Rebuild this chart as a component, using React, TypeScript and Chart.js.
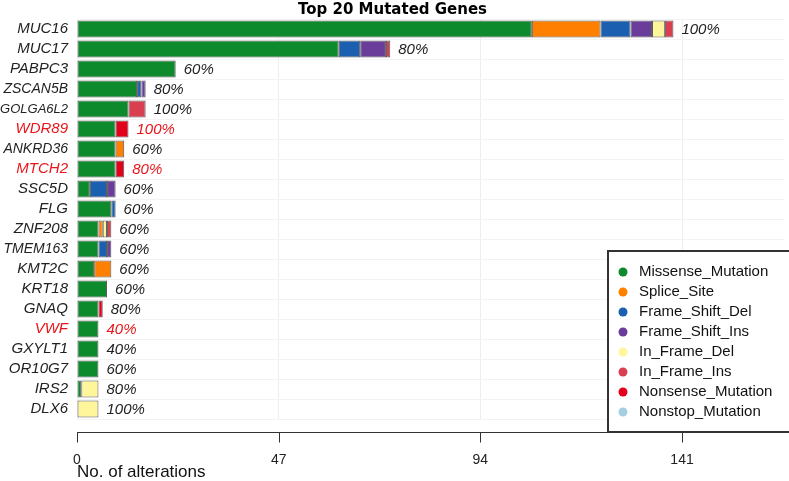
import { useEffect, useRef } from 'react'
import Chart from 'chart.js/auto'

// genes, top to bottom
const genes = [
  'MUC16', 'MUC17', 'PABPC3', 'ZSCAN5B', 'GOLGA6L2', 'WDR89', 'ANKRD36', 'MTCH2', 'SSC5D', 'FLG',
  'ZNF208', 'TMEM163', 'KMT2C', 'KRT18', 'GNAQ', 'VWF', 'GXYLT1', 'OR10G7', 'IRS2', 'DLX6',
]

// alterations per mutation type
const missense = [106, 61, 23, 14, 12, 9, 9, 9, 3, 8, 5, 5, 4, 7, 5, 5, 5, 5, 1, 0]
const spliceSite = [16, 0, 0, 0, 0, 0, 2, 0, 0, 0, 1, 0, 4, 0, 0, 0, 0, 0, 0, 0]
const frameShiftDel = [7, 5, 0, 1, 0, 0, 0, 0, 4, 1, 0, 2, 0, 0, 0, 0, 0, 0, 0, 0]
const frameShiftIns = [5, 6, 0, 1, 0, 0, 0, 0, 2, 0, 0, 1, 0, 0, 0, 0, 0, 0, 0, 0]
const inFrameDel = [3, 0, 0, 0, 0, 0, 0, 0, 0, 0, 1, 0, 0, 0, 0, 0, 0, 0, 4, 5]
const inFrameIns = [2, 1, 0, 0, 4, 0, 0, 0, 0, 0, 1, 0, 0, 0, 0, 0, 0, 0, 0, 0]
const nonsense = [0, 0, 0, 0, 0, 3, 0, 2, 0, 0, 0, 0, 0, 0, 1, 0, 0, 0, 0, 0]
const nonstop = [0, 0, 0, 0, 0, 0, 0, 0, 0, 0, 0, 0, 0, 0, 0, 0, 0, 0, 0, 0]

// percent of samples mutated
const pctMutated = [100, 80, 60, 80, 100, 100, 60, 80, 60, 60, 60, 60, 60, 60, 80, 40, 40, 60, 80, 100]
const highlighted = ['WDR89', 'MTCH2', 'VWF']

const xTicks = [0, 47, 94, 141]

const mutationTypes = [
  'Missense_Mutation', 'Splice_Site', 'Frame_Shift_Del', 'Frame_Shift_Ins',
  'In_Frame_Del', 'In_Frame_Ins', 'Nonsense_Mutation', 'Nonstop_Mutation',
]
const typeColors = ['#0c8a2c', '#ff7f00', '#1a5fb0', '#6a3d9a', '#fff59a', '#d8404f', '#e2001a', '#a6cee3']

const RED = '#e8161b'
const TEXT = '#222'

export default function App() {
  const chartRef = useRef<HTMLCanvasElement>(null)

  useEffect(() => {
    if (!chartRef.current) return
    const series = [missense, spliceSite, frameShiftDel, frameShiftIns, inFrameDel, inFrameIns, nonsense, nonstop]
    const totals = genes.map((_, i) => series.reduce((s, arr) => s + arr[i], 0))

    const overlay = {
      id: 'overlay',
      afterDatasetsDraw(chart: any) {
        const { ctx, scales, chartArea } = chart
        const x = scales.x
        const y = scales.y
        ctx.save()
        // percent labels
        ctx.font = 'italic 15px "Liberation Sans", Arial, sans-serif'
        ctx.textAlign = 'left'
        ctx.textBaseline = 'middle'
        genes.forEach((g, i) => {
          ctx.fillStyle = highlighted.includes(g) ? RED : TEXT
          ctx.fillText(pctMutated[i] + '%', x.getPixelForValue(totals[i]) + 8, y.getPixelForValue(i) + 1)
        })
        // x axis line + ticks
        const axisY = chartArea.bottom + 13.5
        ctx.strokeStyle = '#333'
        ctx.lineWidth = 1
        ctx.beginPath()
        ctx.moveTo(x.getPixelForValue(0), axisY)
        ctx.lineTo(chartArea.right, axisY)
        xTicks.forEach((v) => {
          const px = Math.round(x.getPixelForValue(v)) + 0.5
          ctx.moveTo(px, axisY)
          ctx.lineTo(px, axisY + 10)
        })
        ctx.stroke()
        ctx.restore()
      },
      afterDraw(chart: any) {
        const { ctx } = chart
        const left = 608
        const top = 251
        const w = 182
        const h = 181
        ctx.save()
        ctx.fillStyle = '#fff'
        ctx.fillRect(left, top, w, h)
        ctx.strokeStyle = '#333'
        ctx.lineWidth = 2
        ctx.strokeRect(left, top, w, h)
        ctx.font = '15px "Liberation Sans", Arial, sans-serif'
        ctx.textBaseline = 'middle'
        ctx.textAlign = 'left'
        chart.data.datasets.forEach((ds: any, k: number) => {
          const cy = top + 21 + k * 20
          ctx.fillStyle = ds.backgroundColor
          ctx.beginPath()
          ctx.arc(left + 15, cy, 4.5, 0, Math.PI * 2)
          ctx.fill()
          ctx.fillStyle = '#111'
          ctx.fillText(ds.label, left + 31, cy)
        })
        ctx.restore()
      },
    }

    const chart = new Chart(chartRef.current, {
      type: 'bar',
      data: {
        labels: genes,
        datasets: mutationTypes.map((t, k) => ({
          label: t,
          data: series[k].map((v) => (v === 0 ? null : v)),
          backgroundColor: typeColors[k],
          borderColor: '#5a5a5a',
          borderWidth: 1,
          borderSkipped: false,
          barPercentage: 0.85,
          categoryPercentage: 1,
        })),
      },
      options: {
        indexAxis: 'y',
        animation: false,
        responsive: true,
        maintainAspectRatio: false,
        layout: { padding: { left: 0, right: 4, top: 0, bottom: 0 } },
        plugins: {
          legend: { display: false },
          tooltip: { enabled: false },
          title: {
            display: true,
            text: 'Top 20 Mutated Genes',
            color: '#000',
            font: { family: 'DejaVu Sans', size: 15, weight: 'bold', lineHeight: 1 },
            padding: { top: 3, bottom: 1 },
          },
        },
        scales: {
          x: {
            stacked: true,
            min: 0,
            max: 165,
            afterBuildTicks: (s: any) => {
              s.ticks = xTicks.map((v) => ({ value: v }))
            },
            afterFit: (s: any) => {
              s.height = 62
            },
            grid: { color: '#eeeeee', drawTicks: false },
            border: { display: false },
            ticks: {
              padding: 33,
              color: TEXT,
              maxRotation: 0,
              font: { family: '"Liberation Sans Narrow", "Liberation Sans", Arial', size: 14 },
            },
            title: {
              display: true,
              text: 'No. of alterations',
              align: 'start',
              color: '#111',
              padding: 0,
              font: { family: '"Liberation Sans Narrow", "Liberation Sans", Arial', size: 17, lineHeight: 1 },
            },
          },
          y: {
            stacked: true,
            afterFit: (s: any) => {
              s.width = 77
            },
            grid: { color: '#f3f3f3', drawTicks: false, offset: true },
            border: { display: false },
            ticks: {
              padding: 9,
              autoSkip: false,
              color: (c: any) => (highlighted.includes(genes[c.index]) ? RED : TEXT),
              font: (c: any) => {
                const n = (genes[c.index] || '').length
                return { family: '"Liberation Sans", Arial', style: 'italic', size: n >= 8 ? 13 : n === 7 ? 14 : 15 }
              },
            },
          },
        },
      },
      plugins: [overlay],
    } as any)

    return () => {
      chart.destroy()
    }
  }, [])

  return (
    <div style={{ position: 'absolute', left: 0, top: 0, width: 789, height: 481, background: '#fff' }}>
      <canvas ref={chartRef} />
    </div>
  )
}
